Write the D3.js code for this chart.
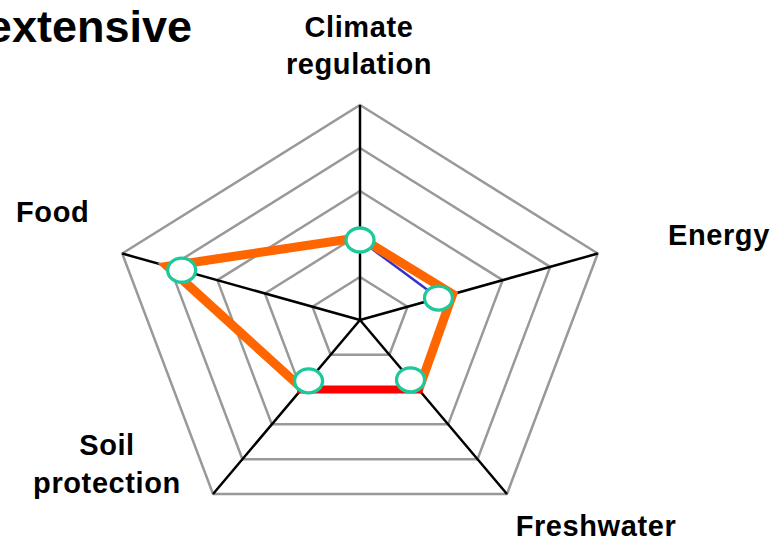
<!DOCTYPE html>
<html>
    <head>
        <script src="https://d3js.org/d3.v7.min.js" charset="utf-8"></script>
        <style>
            body { margin: 0; background: #fff; }
            text { font-family: "Liberation Sans", Arial, sans-serif; font-weight: bold; fill: #000; }
        </style>
    </head>
    <body>
        <svg id="radar" width="779" height="542"></svg>
    </body>
    <script>
        // axes, clockwise from the top
        var axes = ["Climate regulation", "Energy", "Freshwater", "Soil protection", "Food"];
        var ringLevels = [1, 2, 3, 4, 5];
        var maxValue = 5;

        // series
        var markerValues = [1.86, 1.65, 1.72, 1.75, 3.75];   // green circles
        var blueValues = [1.86, 1.65];                        // thin line, Climate -> Energy
        var blueAxes = [0, 1];
        var orangeValues = [1.92, 1.95, 2.0, 1.97, 4.05];    // thick overlay
        var orangeOrder = [3, 4, 0, 1, 2];                    // open path, bottom left to bottom right
        var redValues = [2.0, 2.0];                           // Soil protection -> Freshwater
        var redAxes = [3, 2];

        var svg = d3.select('#radar'),
            cx = 360, cy = 320;

        // the chart is stretched sideways, so x and y get their own scale
        var rx = d3.scaleLinear().domain([0, maxValue]).range([0, 250]),
            ry = d3.scaleLinear().domain([0, maxValue]).range([0, 215]);

        function angle(i) { return i * 2 * Math.PI / axes.length; }
        function px(i, v) { return cx + rx(v) * Math.sin(angle(i)); }
        function py(i, v) { return cy - ry(v) * Math.cos(angle(i)); }

        var line = d3.line().x(function(d) { return d[0]; }).y(function(d) { return d[1]; });

        // grid rings
        svg.append('g').selectAll('path')
            .data(ringLevels)
            .join('path')
            .attr('d', function(l) {
                return line(axes.map(function(a, i) { return [px(i, l), py(i, l)]; })) + 'Z';
            })
            .attr('fill', 'none')
            .attr('stroke', '#999')
            .attr('stroke-width', 2.5);

        // spokes
        svg.append('g').selectAll('line')
            .data(axes)
            .join('line')
            .attr('x1', cx).attr('y1', cy)
            .attr('x2', function(d, i) { return px(i, maxValue); })
            .attr('y2', function(d, i) { return py(i, maxValue); })
            .attr('stroke', '#000')
            .attr('stroke-width', 2.5);

        // blue series
        svg.append('path')
            .attr('d', line(blueAxes.map(function(i, k) { return [px(i, blueValues[k]), py(i, blueValues[k])]; })))
            .attr('fill', 'none')
            .attr('stroke', '#3333cc')
            .attr('stroke-width', 2.5);

        // orange overlay
        svg.append('path')
            .attr('d', line(orangeOrder.map(function(i) { return [px(i, orangeValues[i]), py(i, orangeValues[i])]; })))
            .attr('fill', 'none')
            .attr('stroke', '#ff6600')
            .attr('stroke-width', 9);

        // red segment along the bottom
        svg.append('path')
            .attr('d', line(redAxes.map(function(i, k) { return [px(i, redValues[k]), py(i, redValues[k])]; })))
            .attr('fill', 'none')
            .attr('stroke', '#ff0000')
            .attr('stroke-width', 8)
            .attr('stroke-linecap', 'square');

        // markers
        svg.append('g').selectAll('ellipse')
            .data(markerValues)
            .join('ellipse')
            .attr('cx', function(v, i) { return px(i, v); })
            .attr('cy', function(v, i) { return py(i, v); })
            .attr('rx', 14).attr('ry', 12)
            .attr('fill', '#fff')
            .attr('stroke', '#1dc99a')
            .attr('stroke-width', 3.3);

        // axis labels
        var labels = [
            {lines: ["Climate", "regulation"], x: 359, y: 37, anchor: 'middle', dy: 37},
            {lines: ["Energy"], x: 668, y: 245, anchor: 'start', dy: 0},
            {lines: ["Freshwater"], x: 596, y: 536, anchor: 'middle', dy: 0},
            {lines: ["Soil", "protection"], x: 107, y: 455, anchor: 'middle', dy: 38},
            {lines: ["Food"], x: 16, y: 222, anchor: 'start', dy: 0}
        ];
        var lab = svg.append('g').selectAll('text')
            .data(labels)
            .join('text')
            .attr('x', function(d) { return d.x; })
            .attr('y', function(d) { return d.y; })
            .attr('text-anchor', function(d) { return d.anchor; })
            .style('font-size', '29px')
            .style('letter-spacing', '0.6px');
        lab.selectAll('tspan')
            .data(function(d) { return d.lines.map(function(t, k) { return {t: t, d: d, k: k}; }); })
            .join('tspan')
            .attr('x', function(s) { return s.d.x; })
            .attr('dy', function(s) { return s.k ? s.d.dy : 0; })
            .text(function(s) { return s.t; });

        // title, cut at the left edge
        svg.append('text')
            .attr('x', 192).attr('y', 42)
            .attr('text-anchor', 'end')
            .style('font-size', '45px')
            .text('extensive');
    </script>
</html>
